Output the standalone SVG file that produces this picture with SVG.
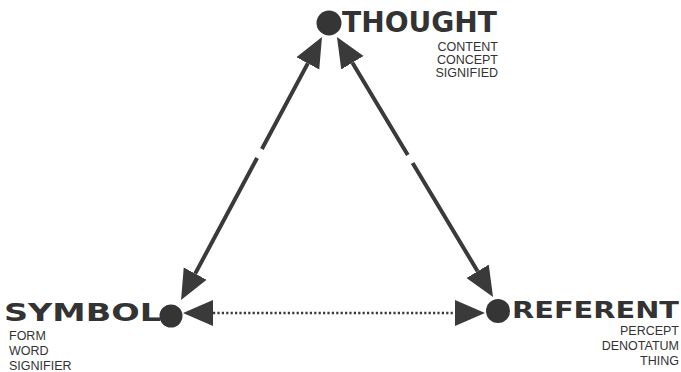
<svg xmlns="http://www.w3.org/2000/svg" width="681" height="372" viewBox="0 0 681 372">
<style>
.title{font-family:"DejaVu Sans","Liberation Sans",sans-serif;font-weight:bold;fill:#333333}
.sub{font-family:"Liberation Sans","Arial",sans-serif;font-size:12.5px;fill:#333333}
.dot{fill:#353535}
.edge{fill:none;stroke:#3a3a3a;stroke-width:4}
.dotted{fill:none;stroke:#3a3a3a;stroke-width:2.5;stroke-dasharray:2.2 2.2}
</style>
<defs>
<marker id="ah" markerUnits="userSpaceOnUse" markerWidth="32" markerHeight="28" viewBox="0 -14 32 28" refX="0" refY="0" orient="auto-start-reverse">
<path d="M0,-13 L30,0 L0,13 z" fill="#3a3a3a"/>
</marker>
</defs>
<rect width="681" height="372" fill="#ffffff"/>
<g id="connectors">
<path class="edge" d="M307.8,63.4 L261.9,149 M257.1,158 L195.2,273.6" marker-start="url(#ah)" marker-end="url(#ah)"/>
<path class="edge" d="M352.4,62.7 L407.8,155 M412.6,163 L477.6,271.3" marker-start="url(#ah)" marker-end="url(#ah)"/>
<path class="dotted" d="M213,313 L455,313" marker-start="url(#ah)" marker-end="url(#ah)"/>
</g>
<g id="thought">
<circle class="dot" cx="329" cy="23" r="12.5"/>
<text class="title" x="342" y="32" font-size="28" textLength="155" lengthAdjust="spacingAndGlyphs">THOUGHT</text>
<text class="sub" text-anchor="end" x="498" y="51">CONTENT</text>
<text class="sub" text-anchor="end" x="498" y="64">CONCEPT</text>
<text class="sub" text-anchor="end" x="498" y="77">SIGNIFIED</text>
</g>
<g id="symbol">
<circle class="dot" cx="171" cy="316" r="11.5"/>
<text class="title" x="4" y="321" font-size="25" textLength="157" lengthAdjust="spacingAndGlyphs">SYMBOL</text>
<text class="sub" x="9" y="340">FORM</text>
<text class="sub" x="9" y="355">WORD</text>
<text class="sub" x="9" y="370">SIGNIFIER</text>
</g>
<g id="referent">
<circle class="dot" cx="498" cy="311" r="12"/>
<text class="title" x="512" y="318" font-size="23" textLength="167" lengthAdjust="spacingAndGlyphs">REFERENT</text>
<text class="sub" text-anchor="end" x="679" y="335">PERCEPT</text>
<text class="sub" text-anchor="end" x="679" y="350">DENOTATUM</text>
<text class="sub" text-anchor="end" x="679" y="365">THING</text>
</g>
</svg>
